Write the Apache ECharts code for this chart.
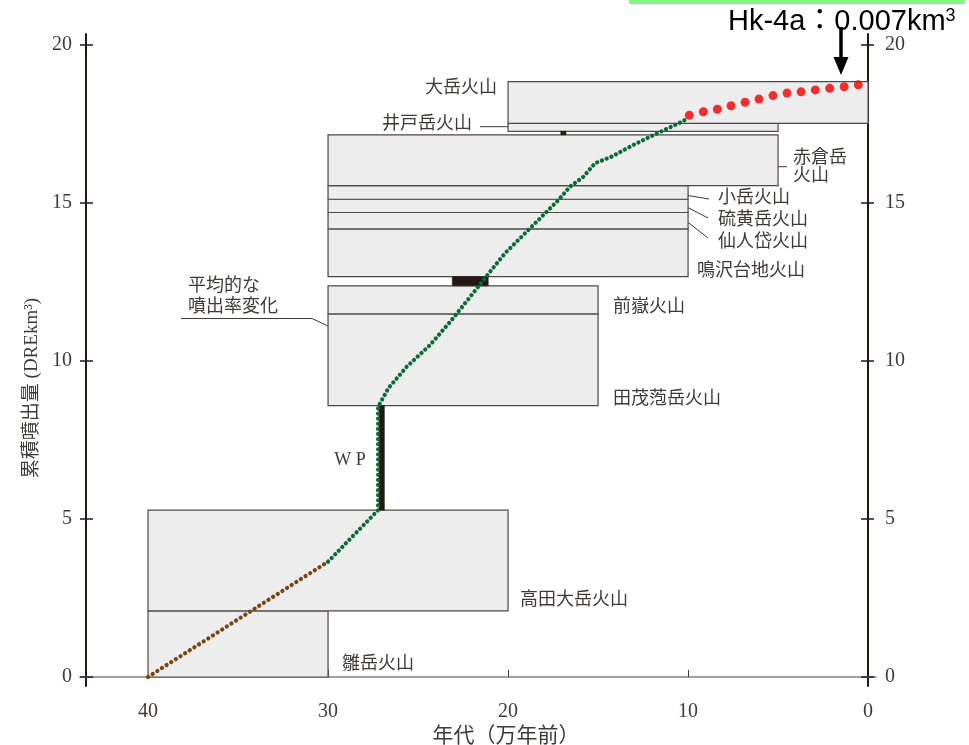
<!DOCTYPE html>
<html>
<head>
<meta charset="utf-8">
<script src="https://cdn.jsdelivr.net/npm/echarts@6/dist/echarts.min.js"></script>
<style>
  html, body { margin: 0; padding: 0; background: #fff; }
  #main { width: 969px; height: 745px; }
</style>
</head>
<body>
<div id="main"></div>
<script>
// 各火山の年代範囲（万年前）と累積噴出量の範囲（DRE km3）
const volcanoNames = ['雛岳火山', '高田大岳火山', '田茂萢岳火山', '前嶽火山', '鳴沢台地火山',
  '仙人岱火山', '硫黄岳火山', '小岳火山', '赤倉岳火山', '井戸岳火山', '大岳火山'];
const ageFrom = [40, 40, 30, 30, 30, 30, 30, 30, 30, 20, 20];
const ageTo = [30, 20, 15, 15, 10, 10, 10, 10, 5, 5, 0];
const volFrom = [0, 2.09, 8.59, 11.49, 12.67, 14.18, 14.70, 15.12, 15.55, 17.27, 17.52];
const volTo = [2.09, 5.28, 11.49, 12.38, 14.18, 14.70, 15.12, 15.55, 17.16, 17.52, 18.84];

// 広域テフラ (WP, T-3, T-7)
const tephraNames = ['WP', 'T-3', 'T-7'];
const tephraAgeFrom = [27.17, 23.1, 17.07];
const tephraAgeTo = [26.87, 21.1, 16.78];
const tephraVolFrom = [5.28, 12.38, 17.16];
const tephraVolTo = [8.59, 12.67, 17.27];

// 平均的な噴出率変化
const brownAge = [40, 30];
const brownVol = [0, 3.65];
const greenAge = [30, 27.22, 27.22, 26.65, 25.63, 24.33, 23.13, 22.11, 21.18, 20.17, 18.78,
  17.21, 16.56, 15.82, 15.17, 14.24, 13.04, 11.93, 10.35, 10.2];
const greenVol = [3.65, 5.28, 8.55, 9.14, 9.82, 10.51, 11.30, 12.03, 12.70, 13.41, 14.20,
  15.09, 15.52, 15.83, 16.26, 16.47, 16.84, 17.15, 17.57, 17.62];
const redAge = [9.93, 9.15, 8.37, 7.61, 6.83, 6.06, 5.28, 4.5, 3.72, 2.93, 2.13, 1.33, 0.54];
const redVol = [17.78, 17.89, 17.97, 18.08, 18.19, 18.29, 18.40, 18.48, 18.52, 18.58, 18.63, 18.68, 18.74];

const xTicks = [10, 20, 30, 40];
const xLabels = [0, 10, 20, 30, 40];
const yTicks = [0, 5, 10, 15, 20];

const textColor = '#3e3a39';
const numFont = 'Liberation Serif';
const jpFont = "18px 'Liberation Serif', 'Noto Sans CJK JP'";

function pairs(xs, ys) {
  return xs.map(function (x, i) { return [x, ys[i]]; });
}

function boxRenderer(fill, stroke, lineWidth) {
  return function (params, api) {
    const a = api.coord([api.value(0), api.value(3)]);
    const b = api.coord([api.value(1), api.value(2)]);
    return {
      type: 'rect',
      shape: {
        x: Math.min(a[0], b[0]), y: Math.min(a[1], b[1]),
        width: Math.abs(b[0] - a[0]), height: Math.abs(b[1] - a[1])
      },
      style: { fill: fill, stroke: stroke, lineWidth: lineWidth }
    };
  };
}

function label(text, x, y, align) {
  return {
    type: 'text', x: x, y: y, silent: true,
    style: { text: text, font: jpFont, fill: textColor, align: align || 'left', verticalAlign: 'middle' }
  };
}

function leader(points) {
  return {
    type: 'polyline', silent: true,
    shape: { points: points },
    style: { stroke: textColor, lineWidth: 1, fill: null }
  };
}

const yBase = { type: 'value', min: -0.285, max: 20.35, splitLine: { show: false } };
const axisDark = '#231815';

const chart = echarts.init(document.getElementById('main'));

const option = {
  backgroundColor: '#ffffff',
  animation: false,
  grid: { left: 80, right: 93, top: 34, bottom: 59 },
  xAxis: {
    type: 'value', inverse: true, min: -0.44, max: 43.78,
    splitLine: { show: false },
    axisLine: { onZero: true, lineStyle: { color: '#9fa0a0', width: 2 } },
    axisTick: { show: true, inside: true, length: 7, customValues: xTicks,
      lineStyle: { color: textColor, width: 1 } },
    axisLabel: { customValues: xLabels, margin: 16, fontFamily: numFont, fontSize: 20, color: textColor }
  },
  yAxis: [
    Object.assign({}, yBase, {
      position: 'left', offset: -6,
      axisLine: { show: true, onZero: false, lineStyle: { color: axisDark, width: 2 } },
      axisTick: { show: true, length: 6, customValues: yTicks, lineStyle: { color: axisDark, width: 1.5 } },
      axisLabel: { customValues: yTicks, margin: 14, fontFamily: numFont, fontSize: 20, color: textColor }
    }),
    Object.assign({}, yBase, {
      position: 'left', offset: -6,
      axisLine: { show: false, onZero: false },
      axisTick: { show: true, inside: true, length: 7, customValues: yTicks, lineStyle: { color: axisDark, width: 1.5 } },
      axisLabel: { show: false }
    }),
    Object.assign({}, yBase, {
      position: 'right', offset: -8,
      axisLine: { show: true, onZero: false, lineStyle: { color: axisDark, width: 2 } },
      axisTick: { show: true, length: 6, customValues: yTicks, lineStyle: { color: axisDark, width: 1.5 } },
      axisLabel: { customValues: yTicks, margin: 17, fontFamily: numFont, fontSize: 20, color: textColor }
    }),
    Object.assign({}, yBase, {
      position: 'right', offset: -8,
      axisLine: { show: false, onZero: false },
      axisTick: { show: true, inside: true, length: 7, customValues: yTicks, lineStyle: { color: axisDark, width: 1.5 } },
      axisLabel: { show: false }
    })
  ],
  series: [
    {
      name: '火山', type: 'custom', z: 1, silent: true,
      renderItem: boxRenderer('#ecedec', '#4d4948', 1.2),
      encode: { x: [0, 1], y: [2, 3] },
      data: volcanoNames.map(function (n, i) { return [ageFrom[i], ageTo[i], volFrom[i], volTo[i]]; })
    },
    {
      name: 'テフラ', type: 'custom', z: 2, silent: true,
      renderItem: boxRenderer('#231815', '#231815', 0.5),
      encode: { x: [0, 1], y: [2, 3] },
      data: tephraNames.map(function (n, i) { return [tephraAgeFrom[i], tephraAgeTo[i], tephraVolFrom[i], tephraVolTo[i]]; })
    },
    {
      name: '40-30万年', type: 'line', z: 3, silent: true, symbol: 'none',
      data: pairs(brownAge, brownVol),
      lineStyle: { color: '#7b4510', width: 4.2, type: [0.1, 5.4], cap: 'round' }
    },
    {
      name: '30-10万年', type: 'line', z: 3, silent: true, symbol: 'none',
      data: pairs(greenAge, greenVol),
      lineStyle: { color: '#0b6a35', width: 4.2, type: [0.1, 5.0], cap: 'round' }
    },
    {
      name: '10万年以降', type: 'scatter', z: 4, silent: true,
      data: pairs(redAge, redVol),
      symbolSize: 9,
      itemStyle: { color: '#ee0000' }
    }
  ],
  graphic: [
    { type: 'rect', silent: true, shape: { x: 629, y: 0, width: 336, height: 4 }, style: { fill: '#80fa80' } },
    {
      type: 'text', x: 728, y: 22, silent: true,
      style: {
        text: '{b|Hk-4a：0.007km}{s|3}',
        align: 'left', verticalAlign: 'middle',
        rich: {
          b: { fontFamily: "'Liberation Sans', 'Noto Sans CJK JP'", fontSize: 29, fill: '#000', color: '#000' },
          s: { fontFamily: 'Liberation Sans', fontSize: 18, fill: '#000', color: '#000', verticalAlign: 'top' }
        }
      }
    },
    { type: 'line', silent: true, shape: { x1: 841, y1: 27, x2: 841, y2: 60 }, style: { stroke: '#000', lineWidth: 3.5 } },
    { type: 'polygon', silent: true, shape: { points: [[833.5, 57], [848.5, 57], [841, 75]] }, style: { fill: '#000' } },

    label('大岳火山', 497, 88, 'right'),
    label('井戸岳火山', 472, 124, 'right'),
    leader([[480, 126.7], [510, 126.7]]),
    label('T−7', 548, 151, 'center'),
    label('赤倉岳', 793, 158),
    label('火山', 793, 176.5),
    leader([[762, 166.7], [787, 166.7]]),
    label('小岳火山', 718, 198.5),
    leader([[685, 195], [709, 199]]),
    label('硫黄岳火山', 718, 220.5),
    leader([[685, 206], [708, 218]]),
    label('仙人岱火山', 718, 242),
    leader([[685, 220], [708, 238]]),
    label('鳴沢台地火山', 697, 271.5),
    label('T−3', 438, 264, 'center'),
    label('前嶽火山', 613, 307.5),
    label('平均的な', 188, 286),
    label('噴出率変化', 188, 307.5),
    leader([[181, 318.5], [312, 318.5], [407, 363]]),
    label('田茂萢岳火山', 613, 399),
    label('W P', 350, 460, 'center'),
    label('高田大岳火山', 520, 600.5),
    label('雛岳火山', 342, 664.5),

    {
      type: 'text', x: 506, y: 734, silent: true,
      style: { text: '年代（万年前）', font: "21px 'Noto Sans CJK JP'", fill: textColor, align: 'center', verticalAlign: 'middle' }
    },
    {
      type: 'text', x: 32, y: 388, rotation: Math.PI / 2, silent: true,
      style: { text: '累積噴出量 (DREkm³)', font: "19px 'Liberation Serif', 'Noto Sans CJK JP'", fill: textColor,
        align: 'center', verticalAlign: 'middle' }
    }
  ]
};

chart.setOption(option);
</script>
</body>
</html>
